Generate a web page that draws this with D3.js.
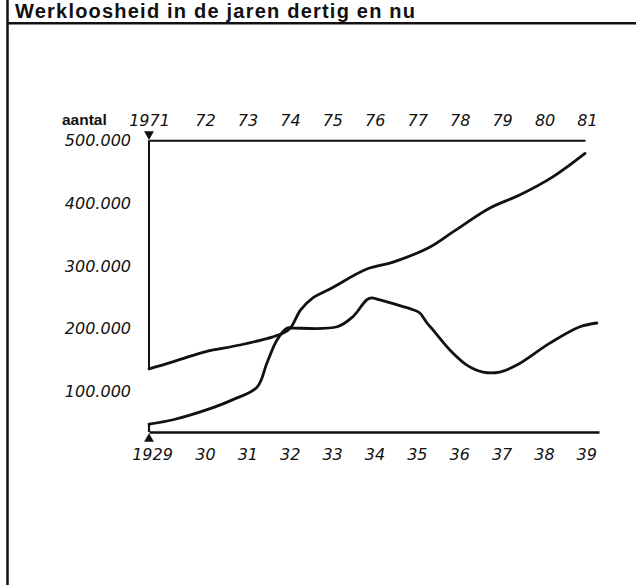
<!DOCTYPE html>
<html><head><meta charset="utf-8">
<script src="https://cdn.jsdelivr.net/npm/d3@7"></script>
<style>
body{margin:0;background:#fff}
svg{display:block}
.lbl{font-family:"DejaVu Sans",sans-serif;font-style:italic;font-size:16px;fill:#111}
</style>
</head><body>
<svg id="c" width="636" height="585"></svg>
<script>
// ---- data ----
const title = "Werkloosheid in de jaren dertig en nu";
const yLabel = "aantal";
const yTicks = [100000, 200000, 300000, 400000, 500000];
const yearsNu = [1971, 1972, 1973, 1974, 1975, 1976, 1977, 1978, 1979, 1980, 1981];
const yearsDertig = [1929, 1930, 1931, 1932, 1933, 1934, 1935, 1936, 1937, 1938, 1939];
const axisFloor = 35500;   // value level of the lower (1929-39) time axis
const axisTop = 500000;    // value level of the upper (1971-81) time axis

// 1971-81 series (year, unemployed)
const nuJaar   = [1971.00, 1971.44, 1971.80, 1972.09, 1972.87, 1973.65, 1973.89, 1974.06, 1974.30, 1974.59, 1974.99, 1975.86, 1976.48, 1977.35, 1977.89, 1978.76, 1979.47, 1980.25, 1981.00];
const nuAantal = [136000, 147000, 157000, 164000, 174000, 187000, 193000, 201000, 230000, 249000, 263000, 295000, 306000, 330000, 354000, 392000, 413000, 442000, 479000];

// 1929-39 series (year, unemployed)
const dertigJaar   = [1929.00, 1929.43, 1930.05, 1930.66, 1931.23, 1931.46, 1931.70, 1931.94, 1932.08, 1933.12, 1933.49, 1933.82, 1933.94, 1934.06, 1934.91, 1935.07, 1935.24, 1935.38, 1935.78, 1936.18, 1936.56, 1936.96, 1937.36, 1938.14, 1938.85, 1939.25];
const dertigAantal = [48000, 55000, 71000, 87000, 107000, 145000, 182000, 201000, 201000, 203000, 219000, 246000, 249000, 247000, 230000, 225000, 209000, 198000, 166000, 142000, 131000, 131000, 142000, 177000, 203000, 209000];

// ---- drawing ----
const svg = d3.select("#c");

const y = d3.scaleLinear().domain([0, 500000]).range([454.3, 140.2]);
const xNu = d3.scaleLinear().domain([1971, 1972, 1981]).range([149, 203, 585]);
const xDertig = d3.scaleLinear().domain([1929, 1930, 1939.3]).range([149, 205, 599]);

// frame
svg.append("line").attr("x1", 7.5).attr("x2", 7.5).attr("y1", 0).attr("y2", 585)
  .attr("stroke", "#111").attr("stroke-width", 2.5);
svg.append("line").attr("x1", 7).attr("x2", 636).attr("y1", 23.3).attr("y2", 23.3)
  .attr("stroke", "#111").attr("stroke-width", 2.6);
svg.append("text").attr("x", 15).attr("y", 18.2)
  .attr("font-family", "'Liberation Sans', Arial, sans-serif")
  .attr("font-weight", "bold").attr("font-size", 20).attr("fill", "#111")
  .attr("textLength", 400).attr("lengthAdjust", "spacing")
  .text(title);

// top axis (1971-81)
const topAxis = svg.append("g").attr("transform", `translate(0,${y(axisTop)})`)
  .call(d3.axisTop(xNu).tickValues(yearsNu).tickSize(0).tickSizeOuter(0).tickPadding(14)
    .tickFormat(d => d === yearsNu[0] ? String(d) : String(d).slice(2)));
topAxis.select(".domain").attr("stroke", "#111").attr("stroke-width", 2);
topAxis.selectAll("text").attr("class", "lbl").attr("font-size", null).attr("font-family", null)
  .attr("dx", (d, i) => i === 0 ? 0 : 2);

// bottom axis (1929-39)
const botAxis = svg.append("g").attr("transform", `translate(0,${y(axisFloor)})`)
  .call(d3.axisBottom(xDertig).tickValues(yearsDertig).tickSize(0).tickSizeOuter(0).tickPadding(17)
    .tickFormat(d => d === yearsDertig[0] ? String(d) : String(d).slice(2)));
botAxis.select(".domain").attr("stroke", "#111").attr("stroke-width", 2.4);
botAxis.selectAll("text").attr("class", "lbl").attr("font-size", null).attr("font-family", null)
  .attr("dx", (d, i) => i === 0 ? 3 : 0);

// y labels
svg.append("g").selectAll("text").data(yTicks).join("text")
  .attr("class", "lbl").attr("font-size", 17)
  .attr("x", 131).attr("y", d => y(d)).attr("dy", "0.36em").attr("text-anchor", "end")
  .text(d => d3.format(",")(d).replace(/,/g, "."));
svg.append("text").attr("x", 62).attr("y", 125)
  .attr("font-family", "'Liberation Sans', Arial, sans-serif").attr("font-weight", "bold")
  .attr("font-size", 15.5).attr("fill", "#111").text(yLabel);

// connectors from time axes to the series starts
svg.append("line").attr("x1", xNu(yearsNu[0])).attr("x2", xNu(yearsNu[0]))
  .attr("y1", y(axisTop)).attr("y2", y(nuAantal[0]))
  .attr("stroke", "#111").attr("stroke-width", 2);
svg.append("line").attr("x1", xDertig(yearsDertig[0])).attr("x2", xDertig(yearsDertig[0]))
  .attr("y1", y(axisFloor)).attr("y2", y(dertigAantal[0]))
  .attr("stroke", "#111").attr("stroke-width", 2.2);

// markers
const tri = d3.symbol().type(d3.symbolTriangle).size(42);
svg.append("path").attr("d", tri())
  .attr("transform", `translate(${xNu(yearsNu[0])},${y(axisTop) - 6}) rotate(180)`).attr("fill", "#111");
svg.append("path").attr("d", tri())
  .attr("transform", `translate(${xDertig(yearsDertig[0])},${y(axisFloor) + 7})`).attr("fill", "#111");

// series
const lineNu = d3.line().x(d => xNu(d[0])).y(d => y(d[1])).curve(d3.curveCatmullRom.alpha(0.5));
const lineDertig = d3.line().x(d => xDertig(d[0])).y(d => y(d[1])).curve(d3.curveCatmullRom.alpha(0.5));
svg.append("path").attr("d", lineNu(d3.zip(nuJaar, nuAantal)))
  .attr("fill", "none").attr("stroke", "#111").attr("stroke-width", 2.8)
  .attr("stroke-linejoin", "round").attr("stroke-linecap", "round");
svg.append("path").attr("d", lineDertig(d3.zip(dertigJaar, dertigAantal)))
  .attr("fill", "none").attr("stroke", "#111").attr("stroke-width", 2.8)
  .attr("stroke-linejoin", "round").attr("stroke-linecap", "round");
</script>
</body></html>
